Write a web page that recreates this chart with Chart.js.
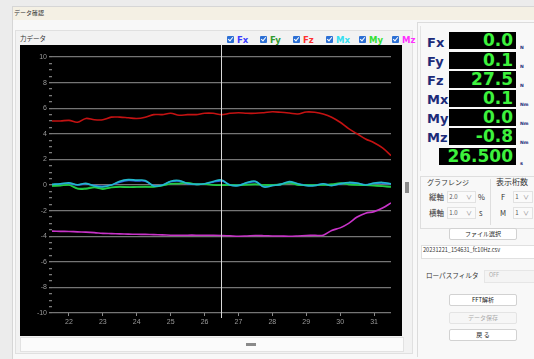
<!DOCTYPE html>
<html lang="ja">
<head>
<meta charset="utf-8">
<title>データ確認</title>
<script src="https://cdn.jsdelivr.net/npm/chart.js@4.4.1/dist/chart.umd.min.js"></script>
<style>
  body { margin:0; width:534px; height:359px; background:#ececec; overflow:hidden; position:relative;
         font-family:"Noto Sans CJK JP","Noto Sans",sans-serif; color:#333; }
  .a { position:absolute; }
  #win { left:12px; top:6px; width:522px; height:353px; background:#f8f8f8; border-left:1px solid #d6d6d6; border-top:1px solid #d6d6d6; }
  #bar { left:13px; top:7px; width:521px; height:13px; background:#f4f0e4; }
  .t { position:absolute; white-space:nowrap; line-height:1; }
  #plot { left:20px; top:45px; width:382px; height:291px; background:#000; }
  .chk { position:absolute; top:36px; width:7px; height:7px; background:#2c6fd4; border-radius:1px; }
  .chk::after { content:""; position:absolute; left:2px; top:0px; width:2px; height:4px;
                border:solid #fff; border-width:0 1px 1px 0; transform:rotate(40deg); }
  .lg { position:absolute; top:35px; font:bold 8.5px "DejaVu Sans",sans-serif; }
  .lab { position:absolute; left:427px; font:bold 13px "DejaVu Sans",sans-serif; color:#1c2b78; }
  .val { position:absolute; left:449px; width:64px; height:17px; background:#000; color:#3df23d;
         font:bold 17px/17px "DejaVu Sans",sans-serif; text-align:right; padding-right:3px; }
  .unit { position:absolute; left:520px; font:bold 4.5px "DejaVu Sans",sans-serif; color:#1c2b78; }
  .btn { position:absolute; left:449px; width:66px; height:10px; background:#fff; border:1px solid #d2d2d2;
         border-radius:2px; font-size:6px; line-height:10px; text-align:center; color:#222; }
  .dd { position:absolute; height:10px; background:#fafafa; border:1px solid #e2e2e2; font-size:6px; line-height:10px; color:#555; }
  .dd span { position:absolute; right:3px; top:0; color:#888; font-size:6px; }
</style>
</head>
<body>
<div id="win" class="a"></div>
<div id="bar" class="a"></div>
<div class="t" style="left:14px;top:10px;font-size:6px;">データ確認</div>

<!-- left group -->
<div class="a" style="left:15px;top:30px;width:396px;height:322px;background:#f2f2f2;border:1px solid #e0e0e0;"></div>
<div class="t" style="left:20px;top:35px;font-size:6.5px;">力データ</div>
<div class="a" style="left:20px;top:337px;width:382px;height:13px;background:#fbfbfb;border:1px solid #e2e2e2;"></div>
<div class="a" style="left:246px;top:343px;width:10px;height:3px;background:#8a8a8a;"></div>
<div class="a" style="left:405px;top:182px;width:4px;height:11px;background:#8a8a8a;"></div>

<div class="chk" style="left:227px;"></div><div class="lg" style="left:237px;color:#3b3bff;">Fx</div>
<div class="chk" style="left:260px;"></div><div class="lg" style="left:270px;color:#2f9a2f;">Fy</div>
<div class="chk" style="left:293px;"></div><div class="lg" style="left:303px;color:#ff3030;">Fz</div>
<div class="chk" style="left:326px;"></div><div class="lg" style="left:336px;color:#35dff0;">Mx</div>
<div class="chk" style="left:359px;"></div><div class="lg" style="left:369px;color:#35e035;">My</div>
<div class="chk" style="left:392px;"></div><div class="lg" style="left:402px;color:#ff30ff;">Mz</div>

<div id="plot" class="a"><canvas id="forceChart"></canvas></div>

<!-- right panel -->
<div class="a" style="left:417px;top:22px;width:117px;height:334px;border-left:1px solid #dcdcdc;border-top:1px solid #dcdcdc;"></div>
<div class="a" style="left:420px;top:26px;width:114px;height:145px;border-left:1px solid #e4e4e4;"></div>

<div class="lab" style="top:35px;">Fx</div><div class="val" style="top:32px;">0.0</div><div class="unit" style="top:45px;">N</div>
<div class="lab" style="top:54px;">Fy</div><div class="val" style="top:52px;">0.1</div><div class="unit" style="top:64px;">N</div>
<div class="lab" style="top:73px;">Fz</div><div class="val" style="top:71px;">27.5</div><div class="unit" style="top:83px;">N</div>
<div class="lab" style="top:92px;">Mx</div><div class="val" style="top:90px;">0.1</div><div class="unit" style="top:102px;">Nm</div>
<div class="lab" style="top:111px;">My</div><div class="val" style="top:109px;">0.0</div><div class="unit" style="top:121px;">Nm</div>
<div class="lab" style="top:130px;">Mz</div><div class="val" style="top:128px;">-0.8</div><div class="unit" style="top:140px;">Nm</div>
<div class="val" style="left:439px;width:74px;top:148px;">26.500</div><div class="unit" style="top:160px;font-size:5px;">s</div>

<div class="a" style="left:420px;top:176px;width:113px;height:51px;border:1px solid #dedede;"></div>
<div class="a" style="left:490px;top:179px;width:1px;height:46px;background:#dedede;"></div>
<div class="t" style="left:427px;top:179px;font-size:7px;">グラフレンジ</div>
<div class="t" style="left:496px;top:178px;font-size:8px;">表示桁数</div>
<div class="t" style="left:429px;top:193px;font-size:7.5px;">縦軸</div>
<div class="dd" style="left:447px;top:191px;width:27px;">&nbsp;2.0<span>∨</span></div>
<div class="t" style="left:478px;top:193px;font-size:7.5px;">%</div>
<div class="t" style="left:429px;top:209px;font-size:7.5px;">横軸</div>
<div class="dd" style="left:447px;top:207px;width:27px;">&nbsp;1.0<span>∨</span></div>
<div class="t" style="left:479px;top:209px;font-size:7.5px;">s</div>
<div class="t" style="left:501px;top:193px;font-size:7.5px;">F</div>
<div class="dd" style="left:513px;top:191px;width:18px;">&nbsp;1<span>∨</span></div>
<div class="t" style="left:500px;top:209px;font-size:7.5px;">M</div>
<div class="dd" style="left:513px;top:207px;width:18px;">&nbsp;1<span>∨</span></div>

<div class="btn" style="top:228px;">ファイル選択</div>
<div class="a" style="left:421px;top:245px;width:113px;height:12px;background:#fff;border:1px solid #e0e0e0;"></div>
<div class="t" style="left:423px;top:248px;font-size:5.6px;color:#333;">20231221_154631_fc10Hz.csv</div>
<div class="t" style="left:426px;top:272px;font-size:6.6px;">ローパスフィルタ</div>
<div class="a" style="left:484px;top:270px;width:50px;height:11px;background:#f4f4f4;border:1px solid #e6e6e6;"></div>
<div class="t" style="left:489px;top:273px;font-size:5.5px;color:#aaa;">OFF</div>
<div class="btn" style="top:294px;">FFT解析</div>
<div class="btn" style="top:312px;background:#f6f6f6;color:#aaa;border-color:#e4e4e4;">データ保存</div>
<div class="btn" style="top:329px;">戻 る</div>

<script>
// 時間軸 [s]
const times = [21.5, 21.75, 22, 22.25, 22.5, 22.75, 23, 23.25, 23.5, 23.75,
  24, 24.25, 24.5, 24.75, 25, 25.25, 25.5, 25.75, 26, 26.25,
  26.5, 26.75, 27, 27.25, 27.5, 27.75, 28, 28.25, 28.5, 28.75,
  29, 29.25, 29.5, 29.75, 30, 30.25, 30.5, 30.75, 31, 31.25, 31.5];

// 各成分 (%)
const fx = [0.02, 0.08, 0.12, 0.0, 0.1, -0.05, -0.1, 0.0, 0.22, 0.35,
  0.32, 0.3, -0.05, 0.0, 0.25, 0.3, 0.1, 0.05, 0.08, 0.22,
  0.32, 0.02, -0.02, 0.15, 0.25, -0.1, -0.02, 0.05, 0.2, 0.08,
  -0.02, -0.02, 0.08, -0.02, 0.08, 0.15, 0.12, 0.02, 0.12, 0.15, 0.08];
const fy = [-0.05, -0.02, 0.02, -0.25, -0.25, -0.15, -0.28, -0.18, -0.12, -0.15,
  -0.14, -0.12, -0.12, -0.02, 0.08, 0.1, 0.15, 0.05, 0.06, 0.02,
  0.0, 0.02, 0.0, 0.03, 0.05, 0.02, 0.02, 0.05, 0.15, 0.02,
  0.02, 0.02, 0.02, 0.05, 0.12, 0.05, 0.02, 0.0, -0.02, -0.08, -0.12];
const fz = [5.0, 5.0, 5.05, 4.9, 5.2, 5.1, 5.1, 5.3, 5.3, 5.25,
  5.2, 5.3, 5.5, 5.5, 5.6, 5.45, 5.5, 5.5, 5.6, 5.6,
  5.5, 5.6, 5.65, 5.6, 5.6, 5.65, 5.72, 5.68, 5.62, 5.55,
  5.7, 5.68, 5.55, 5.3, 4.9, 4.4, 4.0, 3.6, 3.3, 2.9, 2.3];
const mx = [0.05, 0.1, 0.18, 0.02, 0.13, -0.08, -0.15, 0.0, 0.3, 0.42,
  0.38, 0.36, -0.08, -0.02, 0.3, 0.35, 0.12, 0.06, 0.1, 0.28,
  0.39, 0.0, -0.05, 0.2, 0.3, -0.16, -0.05, 0.05, 0.26, 0.1,
  -0.05, -0.05, 0.1, -0.05, 0.1, 0.2, 0.15, 0.0, 0.15, 0.2, 0.1];
const my = [-0.08, -0.05, 0.0, -0.3, -0.3, -0.2, -0.32, -0.2, -0.15, -0.18,
  -0.16, -0.15, -0.15, -0.05, 0.1, 0.12, 0.18, 0.05, 0.08, 0.0,
  -0.02, 0.0, -0.02, 0.02, 0.05, 0.0, 0.0, 0.05, 0.18, 0.0,
  0.0, 0.0, 0.0, 0.05, 0.15, 0.05, 0.0, -0.02, -0.05, -0.1, -0.16];
const mz = [-3.6, -3.62, -3.63, -3.66, -3.68, -3.72, -3.78, -3.8, -3.82, -3.84,
  -3.85, -3.86, -3.88, -3.9, -3.92, -3.93, -3.92, -3.92, -3.93, -3.93,
  -3.94, -3.97, -4.0, -3.98, -3.95, -3.96, -3.98, -3.99, -4.0, -3.98,
  -3.95, -3.93, -3.92, -3.55, -3.35, -3.0, -2.5, -2.2, -2.08, -1.8, -1.4];

// 目盛り
const xTicks = [22, 23, 24, 25, 26, 27, 28, 29, 30, 31];
const yMajorTicks = [-10, -8, -6, -4, -2, 0, 2, 4, 6, 8, 10];
const cursorTime = 26.5;

function series(label, values, color) {
  return {
    label: label,
    data: times.map((t, i) => ({ x: t, y: values[i] })),
    borderColor: color,
    borderWidth: 1.6,
    pointRadius: 0,
    tension: 0.35,
    fill: false,
  };
}

// カーソル線
const cursorPlugin = {
  id: "cursor",
  afterDatasetsDraw(chart) {
    const x = chart.scales.x.getPixelForValue(cursorTime);
    const ctx = chart.ctx;
    ctx.save();
    ctx.strokeStyle = "#d8d8d8";
    ctx.lineWidth = 1;
    ctx.beginPath();
    ctx.moveTo(x, 0);
    ctx.lineTo(x, chart.chartArea.bottom + 5);
    ctx.stroke();
    ctx.restore();
  },
};

new Chart(document.getElementById("forceChart"), {
  type: "line",
  data: {
    datasets: [
      series("Mx", mx, "#22b8cc"),
      series("My", my, "#22cc44"),
      series("Fx", fx, "#2a5fe0"),
      series("Fy", fy, "#1c9a3c"),
      series("Fz", fz, "#c41212"),
      series("Mz", mz, "#c833c8"),
    ],
  },
  options: {
    responsive: true,
    maintainAspectRatio: false,
    animation: false,
    layout: { padding: { left: 0, right: 11, top: 12, bottom: 0 } },
    plugins: { legend: { display: false }, tooltip: { enabled: false } },
    scales: {
      x: {
        type: "linear",
        min: 21.5,
        max: 31.5,
        afterBuildTicks: (s) => { s.ticks = xTicks.map((v) => ({ value: v })); },
        afterFit: (s) => { s.height = 23; },
        grid: { drawOnChartArea: false, tickLength: 3, tickColor: "#8a8a8a" },
        border: { display: false },
        ticks: { color: "#9a9a9a", font: { size: 7 }, padding: 2, maxRotation: 0 },
      },
      y: {
        min: -10,
        max: 10,
        afterBuildTicks: (s) => {
          const ticks = [];
          yMajorTicks.forEach((v, i) => {
            ticks.push({ value: v });
            if (i < yMajorTicks.length - 1) {
              [0.5, 1, 1.5].forEach((d) => ticks.push({ value: v + d }));
            }
          });
          s.ticks = ticks;
        },
        afterFit: (s) => { s.width = 32; },
        grid: {
          color: (c) => (yMajorTicks.includes(c.tick.value) ? "#757575" : "transparent"),
          lineWidth: 1.3,
          tickLength: 3,
          tickColor: "#7a7a7a",
        },
        border: { display: false },
        ticks: {
          autoSkip: false,
          color: "#9a9a9a",
          font: { size: 7 },
          padding: 2,
          callback: (v) => (yMajorTicks.includes(v) ? v : ""),
        },
      },
    },
  },
  plugins: [cursorPlugin],
});
</script>
</body>
</html>
